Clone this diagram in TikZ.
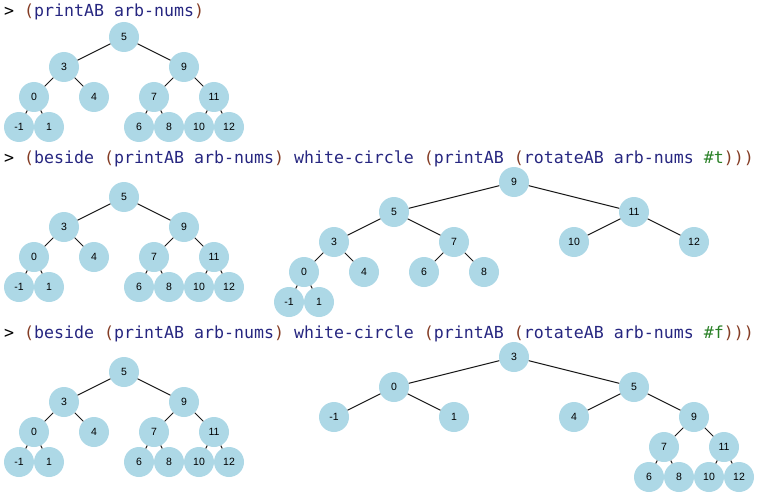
\documentclass[tikz,border=0pt]{standalone}
\usepackage{fontspec}
\usepackage{tikz}
\usetikzlibrary{positioning}

\newfontfamily\codefont[WordSpace={1,0,0}]{DejaVu Sans Mono}
\newfontfamily\labfont{Liberation Sans}

\definecolor{nodeblue}{HTML}{ADD8E6}
\definecolor{symcol}{HTML}{262680}
\definecolor{parcol}{HTML}{843C24}
\definecolor{constcol}{HTML}{298026}

\newcommand{\sy}[1]{\textcolor{symcol}{#1}}
\newcommand{\pn}[1]{\textcolor{parcol}{#1}}
\newcommand{\ct}[1]{\textcolor{constcol}{#1}}

\begin{document}
\begin{tikzpicture}[x=1pt, y=-1pt,
abnode/.style={
  circle,
  fill=nodeblue,
  minimum size=30pt,
  inner sep=0pt,
  font=\labfont\fontsize{10.5}{12}\selectfont},
abedge/.style={
  draw=black!90,
  line width=1pt},
prompt/.style={
  anchor=base west,
  inner sep=0pt,
  font=\codefont\fontsize{16.6}{20}\selectfont}
]
\useasboundingbox (0,0) rectangle (762,500);
% the three prompts
\node[prompt] (p1) at (4,17)
  {> \pn{(}\sy{printAB arb-nums}\pn{)}};
\node[prompt] (p2) at (4,163.5)
  {> \pn{(}\sy{beside} \pn{(}\sy{printAB arb-nums}\pn{)} \sy{white-circle} \pn{(}\sy{printAB} \pn{(}\sy{rotateAB arb-nums} \ct{\#t}\pn{)))}};
\node[prompt] (p3) at (4,338)
  {> \pn{(}\sy{beside} \pn{(}\sy{printAB arb-nums}\pn{)} \sy{white-circle} \pn{(}\sy{printAB} \pn{(}\sy{rotateAB arb-nums} \ct{\#f}\pn{)))}};
% arb-nums, printed once per prompt
\foreach \t/\dy in {a/0,b/160,c/335}{
  \foreach \n/\l/\x/\y in {5/5/124/37, 3/3/64/67, 9/9/184/67,
      0/0/34/97, 4/4/94/97, 7/7/154/97, 11/11/214/97,
      m1/-1/19/127, 1/1/49/127, 6/6/139/127, 8/8/169/127,
      10/10/199/127, 12/12/229/127}
    \node[abnode] (\t\n) at (\x,\y+\dy) {\l};
  \foreach \u/\v in {5/3,5/9,3/0,3/4,0/m1,0/1,9/7,9/11,7/6,7/8,11/10,11/12}
    \draw[abedge] (\t\u) -- (\t\v);
}
% rotateAB arb-nums #t
\foreach \n/\l/\x/\y in {9/9/514/182, 5/5/394/212, 11/11/634/212,
    3/3/334/242, 7/7/454/242, 10/10/574/242, 12/12/694/242,
    0/0/304/272, 4/4/364/272, 6/6/424/272, 8/8/484/272,
    m1/-1/289/302, 1/1/319/302}
  \node[abnode] (d\n) at (\x,\y) {\l};
\foreach \u/\v in {9/5,9/11,5/3,5/7,3/0,3/4,0/m1,0/1,7/6,7/8,11/10,11/12}
  \draw[abedge] (d\u) -- (d\v);
% rotateAB arb-nums #f
\foreach \n/\l/\x/\y in {3/3/514/357, 0/0/394/387, 5/5/634/387,
    m1/-1/334/417, 1/1/454/417, 4/4/574/417, 9/9/694/417,
    7/7/664/447, 11/11/724/447,
    6/6/649/477, 8/8/679/477, 10/10/709/477, 12/12/739/477}
  \node[abnode] (f\n) at (\x,\y) {\l};
\foreach \u/\v in {3/0,3/5,0/m1,0/1,5/4,5/9,9/7,9/11,7/6,7/8,11/10,11/12}
  \draw[abedge] (f\u) -- (f\v);
\end{tikzpicture}
\end{document}
